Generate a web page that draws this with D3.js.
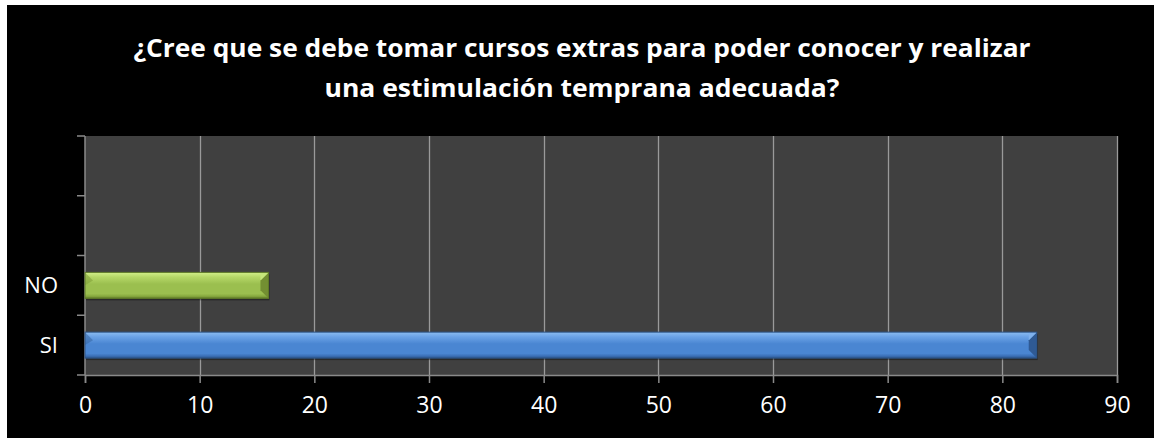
<!DOCTYPE html>
<html>
<head>
<meta charset="utf-8">
<script src="https://cdn.jsdelivr.net/npm/d3@7"></script>
<style>
  body { margin: 0; background: #fff; }
  text { font-family: "Open Sans", "Liberation Sans", sans-serif; fill: #fff; }
</style>
</head>
<body>
<div id="chart"></div>
<script>
var width = 1154, height = 438;

// data, bottom category first (as the spreadsheet had it)
var categories = ["SI", "NO", "", ""];
var values = [83, 16, null, null];
var barColors = ["blue", "green", null, null];
var xTicks = [0, 10, 20, 30, 40, 50, 60, 70, 80, 90];
var titleLines = ["¿Cree que se debe tomar cursos extras para poder conocer y realizar",
                  "una estimulación temprana adecuada?"];
var titleWidths = [897, 515];

var plot = {left: 85, right: 1117, top: 136, bottom: 375};

var svg = d3.select("#chart").append("svg")
    .attr("width", width)
    .attr("height", height);

var defs = svg.append("defs");

var palettes = {
  blue:  {top: "#8cbcf0", hi: "#6aa2e6", mid: "#4a86d2", low: "#3b6fb6", edge: "#2c5488", bevL: "#3766a3", bevR: "#2f5a94", bevT: "#7fb1ec"},
  green: {top: "#d2ef8a", hi: "#b5d767", mid: "#9bbf4f", low: "#86a83e", edge: "#5f7a28", bevL: "#7f9f39", bevR: "#738f32", bevT: "#c6e67a"}
};

Object.keys(palettes).forEach(function(k) {
  var p = palettes[k];
  var g = defs.append("linearGradient")
    .attr("id", "grad-" + k)
    .attr("x1", 0).attr("y1", 0).attr("x2", 0).attr("y2", 1);
  g.append("stop").attr("offset", "0%").attr("stop-color", p.top);
  g.append("stop").attr("offset", "18%").attr("stop-color", p.hi);
  g.append("stop").attr("offset", "45%").attr("stop-color", p.mid);
  g.append("stop").attr("offset", "82%").attr("stop-color", p.mid);
  g.append("stop").attr("offset", "92%").attr("stop-color", p.low);
  g.append("stop").attr("offset", "100%").attr("stop-color", p.edge);
});

// background
svg.append("rect")
  .attr("x", 7).attr("y", 5)
  .attr("width", width - 7).attr("height", height - 5)
  .attr("fill", "#000");

// title, squeezed to the width it has in the original
svg.selectAll("text.title")
  .data(titleLines).enter()
  .append("text")
  .classed("title", true)
  .attr("x", 582)
  .attr("y", function(d, i) { return 57 + i * 40; })
  .attr("text-anchor", "middle")
  .attr("textLength", function(d, i) { return titleWidths[i]; })
  .attr("lengthAdjust", "spacingAndGlyphs")
  .style("font-weight", "bold")
  .style("font-size", "25px")
  .text(function(d) { return d; });

// scales
var x = d3.scaleLinear()
  .domain([0, 90])
  .range([plot.left, plot.right]);

var y = d3.scaleBand()
  .domain(d3.range(categories.length).reverse())
  .range([plot.top, plot.bottom])
  .paddingInner(0.565)
  .paddingOuter(0.565 / 2);

var step = y.step();

// plot area
svg.append("rect")
  .attr("x", plot.left).attr("y", plot.top)
  .attr("width", plot.right - plot.left)
  .attr("height", plot.bottom - plot.top)
  .attr("fill", "#404040");

// vertical gridlines
svg.selectAll("line.grid")
  .data(xTicks.slice(1)).enter()
  .append("line")
  .classed("grid", true)
  .attr("x1", function(d) { return Math.round(x(d)) + 0.5; })
  .attr("x2", function(d) { return Math.round(x(d)) + 0.5; })
  .attr("y1", plot.top)
  .attr("y2", plot.bottom)
  .attr("stroke", "#9a9a9a")
  .attr("stroke-width", 1.3);

// x axis
var xAxis = svg.append("g")
  .attr("transform", "translate(0," + plot.bottom + ")")
  .call(d3.axisBottom(x).tickValues(xTicks).tickSize(8).tickPadding(14));

xAxis.select(".domain").attr("stroke", "#8a8a8a").attr("stroke-width", 1.5);
xAxis.selectAll(".tick line").attr("stroke", "#8a8a8a").attr("stroke-width", 1.5);
xAxis.selectAll(".tick text")
  .attr("fill", "#fff")
  .style("font-size", "23px")
  .style("font-family", "'Open Sans', sans-serif");

// category axis: ticks sit between the slots
var yAxis = svg.append("g").attr("transform", "translate(" + plot.left + ",0)");

yAxis.append("line")
  .attr("x1", 0).attr("x2", 0)
  .attr("y1", plot.top).attr("y2", plot.bottom)
  .attr("stroke", "#8a8a8a").attr("stroke-width", 1.5);

var boundaries = d3.range(categories.length + 1).map(function(i) { return plot.top + i * step; });

yAxis.selectAll("line.ytick")
  .data(boundaries).enter()
  .append("line")
  .classed("ytick", true)
  .attr("x1", -8).attr("x2", 0)
  .attr("y1", function(d) { return d; })
  .attr("y2", function(d) { return d; })
  .attr("stroke", "#8a8a8a").attr("stroke-width", 1.5);

yAxis.selectAll("text.ylabel")
  .data(d3.range(categories.length)).enter()
  .append("text")
  .classed("ylabel", true)
  .attr("x", -27)
  .attr("y", function(i) { return y(i) + y.bandwidth() / 2; })
  .attr("dy", "0.35em")
  .attr("text-anchor", "end")
  .style("font-size", "22px")
  .text(function(i) { return categories[i]; });

// bars with a bevelled look
var bevel = 8;
var barData = d3.range(categories.length).filter(function(i) { return values[i] != null; });

var bars = svg.selectAll("g.bar")
  .data(barData).enter()
  .append("g")
  .classed("bar", true);

bars.append("rect")
  .attr("x", x(0) + 1)
  .attr("y", function(i) { return y(i) + 2; })
  .attr("width", function(i) { return x(values[i]) - x(0); })
  .attr("height", y.bandwidth())
  .attr("fill", "#000")
  .attr("opacity", 0.35);

bars.append("rect")
  .attr("x", x(0))
  .attr("y", function(i) { return y(i); })
  .attr("width", function(i) { return x(values[i]) - x(0); })
  .attr("height", y.bandwidth())
  .attr("fill", function(i) { return "url(#grad-" + barColors[i] + ")"; });

// left bevel facet, top corner only
bars.append("polygon")
  .attr("points", function(i) {
    var x0 = x(0), y0 = y(i);
    return [[x0, y0], [x0 + bevel, y0 + bevel], [x0, y0 + bevel * 1.6]].join(" ");
  })
  .attr("fill", function(i) { return palettes[barColors[i]].bevL; })
  .attr("opacity", 0.55);

// right bevel facets
bars.append("polygon")
  .attr("points", function(i) {
    var x1 = x(values[i]), y0 = y(i), y1 = y(i) + y.bandwidth();
    return [[x1, y0], [x1 - bevel, y0 + bevel], [x1 - bevel, y1 - bevel], [x1, y1]].join(" ");
  })
  .attr("fill", function(i) { return palettes[barColors[i]].bevR; });

bars.append("polygon")
  .attr("points", function(i) {
    var x1 = x(values[i]), y0 = y(i);
    return [[x1, y0], [x1 - bevel, y0], [x1 - bevel, y0 + bevel]].join(" ");
  })
  .attr("fill", function(i) { return palettes[barColors[i]].bevT; });

bars.append("rect")
  .attr("x", x(0))
  .attr("y", function(i) { return y(i); })
  .attr("width", function(i) { return x(values[i]) - x(0); })
  .attr("height", y.bandwidth())
  .attr("fill", "none")
  .attr("stroke", function(i) { return palettes[barColors[i]].edge; })
  .attr("stroke-width", 1);
</script>
</body>
</html>
